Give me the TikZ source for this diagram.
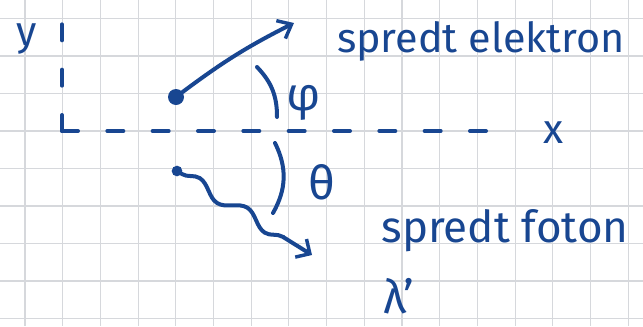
\documentclass[tikz,border=0pt]{standalone}
\usepackage{fontspec}
\setmainfont{Fira Sans}
\usepackage{tikz}
\usetikzlibrary{arrows.meta,decorations.pathmorphing,calc}

\definecolor{ink}{RGB}{24,70,145}
\definecolor{gridgray}{RGB}{214,216,220}

\begin{document}
\begin{tikzpicture}[x=0.75pt, y=-0.75pt,
    pen/.style={draw=ink, line width=3pt, line cap=round},
    axis/.style={pen, dash pattern=on 12pt off 22pt},
    hand/.style={text=ink, font=\fontsize{31}{34}\selectfont, inner sep=0pt},
    greek/.style={hand, font=\fontsize{35}{38}\selectfont},
    dot/.style={circle, fill=ink, inner sep=0pt}]

    \useasboundingbox (0,0) rectangle (643,326);

    % grid paper
    \foreach \k in {0,...,8}
        \draw[gridgray, line width=0.8pt] (0,18.5+37.5*\k) -- (643,18.5+37.5*\k);
    \foreach \k in {0,...,16}
        \draw[gridgray, line width=0.8pt] (25+37.7*\k,0) -- (25+37.7*\k,326);

    % axes
    \coordinate (origin) at (62,131);
    \coordinate (ytop) at (62,18);
    \coordinate (xend) at (512,131);
    \draw[axis] (origin) -- (ytop);
    \draw[axis] (origin) -- (xend);
    \node[hand, anchor=base] (ylabel) at (27,45) {y};
    \node[hand, anchor=base] (xlabel) at (554,143) {x};

    % scattered electron
    \node[dot, minimum size=12pt] (elec) at (176,97) {};
    \coordinate (elecend) at (294,23);
    \draw[pen, -{Straight Barb[length=9pt, width=15pt, line width=2.6pt]}] (elec) to[bend left=5] (elecend);
    \coordinate (phitop) at (257,67);
    \coordinate (phibot) at (277,117);
    \draw[pen] (phitop) to[bend left=22] (phibot);
    \node[greek, anchor=base] (phi) at (304,110) {φ};
    \node[hand, anchor=base] (elektron) at (481,52) {spredt elektron};

    % scattered photon
    \node[dot, minimum size=8pt] (phot) at (177,171) {};
    \coordinate (photend) at (312,255);
    \draw[pen, decorate, decoration={snake, amplitude=4.5pt, segment length=42pt, post length=10pt},
          -{Straight Barb[length=8pt, width=16pt, line width=2.6pt]}] (phot) -- (photend);
    \coordinate (thetatop) at (275,143);
    \coordinate (thetabot) at (273,213);
    \draw[pen] (thetatop) to[bend left=28] (thetabot);
    \node[greek, anchor=base] (theta) at (322,199) {θ};
    \node[hand, anchor=base, font=\fontsize{33}{36}\selectfont] (foton) at (505,242) {spredt foton};
    \node[greek, anchor=base] (lambda) at (399,313) {λ’};

\end{tikzpicture}
\end{document}
